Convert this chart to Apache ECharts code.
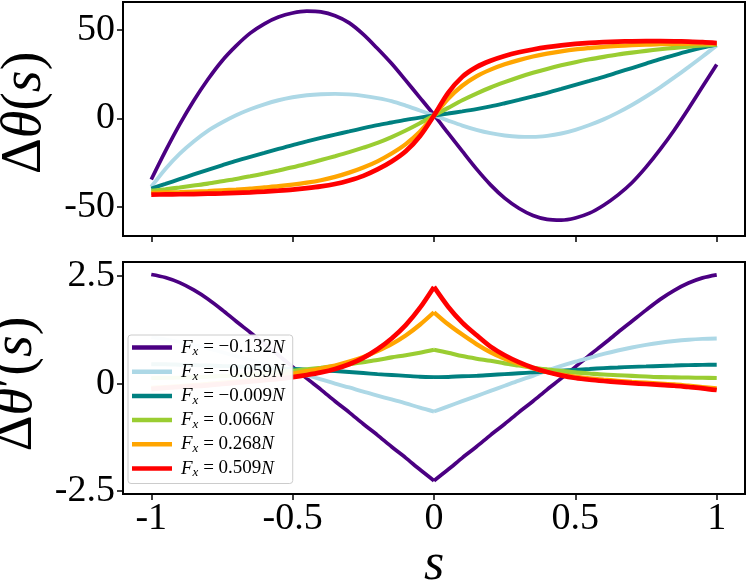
<!DOCTYPE html>
<html>
<head>
<meta charset="utf-8">
<script src="https://cdn.jsdelivr.net/npm/echarts@6/dist/echarts.min.js"></script>
<style>
  html, body { margin: 0; padding: 0; background: #fff; }
  #chart { width: 747px; height: 584px; }
</style>
</head>
<body>
<div id="chart"></div>
<script>
// arc-length coordinate, shared by both panels (step 0.05)
var sValues = [-1, -0.95, -0.9, -0.85, -0.8, -0.75, -0.7, -0.65, -0.6, -0.55, -0.5,
               -0.45, -0.4, -0.35, -0.3, -0.25, -0.2, -0.15, -0.1, -0.05, 0,
               0.05, 0.1, 0.15, 0.2, 0.25, 0.3, 0.35, 0.4, 0.45, 0.5,
               0.55, 0.6, 0.65, 0.7, 0.75, 0.8, 0.85, 0.9, 0.95, 1];

var forces = ['\u22120.132', '\u22120.059', '\u22120.009', '0.066', '0.268', '0.509'];
var colors = ['#4b0082', '#add8e6', '#008080', '#9acd32', '#ffa500', '#ff0000'];

// top panel: delta theta(s)
var thetaA = [-34.5, -18.5, -3.5, 10, 22, 32.5, 41, 48.2, 53.5, 57.3, 59.6,
              60.6, 60.2, 58, 54, 47.5, 39.5, 31, 21.5, 11.8, 2,
              -8.3, -18.5, -28.5, -37.5, -45, -50.7, -54.8, -57, -57.4, -56.2,
              -53.5, -49, -43.3, -36.3, -27.5, -17.5, -6.5, 5.5, 18, 30.5];
var thetaB = [-38.6, -28.5, -20, -13, -7, -2.3, 1.8, 5.2, 8, 10.3, 12,
              13.1, 13.7, 13.9, 13.6, 12.8, 11.5, 9.8, 7.3, 4.5, 1.7,
              -1.2, -4, -6.4, -8.3, -9.6, -10.3, -10.4, -9.8, -8.5, -6.4,
              -3.7, -0.5, 3.3, 7.6, 12.4, 17.6, 23.2, 29, 35, 41.3];
var thetaC = [-39.6, -37, -34.3, -31.6, -29, -26.5, -24, -21.7, -19.5, -17.2, -15,
              -13, -11, -9.1, -7.3, -5.5, -3.8, -2.3, -0.8, 0.5, 1.7,
              2.8, 4, 5.3, 6.8, 8.6, 10.5, 12.5, 14.5, 16.7, 19,
              21.2, 23.5, 26, 28.5, 31, 33.5, 35.8, 38, 40, 41.7];
var thetaD = [-40.9, -40, -39, -37.9, -36.8, -35.5, -34.2, -32.7, -31.1, -29.4, -27.6,
              -25.6, -23.5, -21.3, -19, -16.5, -13.8, -10.5, -6.8, -2.7, 1.7,
              6, 10.3, 14.1, 17.5, 20.5, 23.3, 25.8, 28, 30, 31.8,
              33.4, 34.8, 36.1, 37.2, 38.2, 39.1, 39.9, 40.6, 41.2, 41.7];
var thetaE = [-42, -41.8, -41.6, -41.3, -41, -40.6, -40.2, -39.7, -39, -38.3, -37.4,
              -36.3, -34.9, -33, -30.6, -27.7, -24.2, -19.8, -14.5, -7.5, 1.7,
              11.2, 18.5, 23.8, 27.6, 30.6, 33, 35, 36.6, 37.9, 39,
              39.8, 40.5, 41, 41.4, 41.7, 42, 42.1, 42.2, 42.3, 42.3];
var thetaF = [-43, -42.9, -42.8, -42.7, -42.5, -42.3, -42, -41.7, -41.3, -40.8, -40.2,
              -39.4, -38.4, -37, -35, -32.4, -28.8, -24.3, -18.5, -10, 1.7,
              14.5, 23.5, 29, 32.6, 35.3, 37.4, 39, 40.3, 41.3, 42.1,
              42.7, 43.1, 43.4, 43.6, 43.7, 43.7, 43.6, 43.4, 43.1, 42.6];

// bottom panel: delta theta'(s)
var dthetaA = [2.54, 2.47, 2.35, 2.18, 1.97, 1.72, 1.45, 1.19, 0.92, 0.66, 0.39,
               0.12, -0.14, -0.41, -0.67, -0.94, -1.2, -1.47, -1.73, -2.0, -2.26,
               -2.0, -1.73, -1.47, -1.2, -0.94, -0.67, -0.41, -0.14, 0.12, 0.39,
               0.66, 0.92, 1.19, 1.45, 1.71, 1.96, 2.17, 2.34, 2.46, 2.53];
var dthetaB = [1.08, 1.03, 0.97, 0.9, 0.82, 0.73, 0.64, 0.55, 0.45, 0.36, 0.27,
               0.19, 0.1, 0, -0.09, -0.19, -0.28, -0.37, -0.46, -0.56, -0.65,
               -0.53, -0.41, -0.29, -0.17, -0.05, 0.07, 0.18, 0.3, 0.41, 0.51,
               0.6, 0.69, 0.77, 0.84, 0.9, 0.95, 0.99, 1.02, 1.04, 1.05];
var dthetaC = [0.45, 0.45, 0.44, 0.43, 0.42, 0.41, 0.4, 0.385, 0.37, 0.355, 0.34,
               0.325, 0.31, 0.29, 0.27, 0.245, 0.22, 0.2, 0.18, 0.16, 0.15,
               0.155, 0.17, 0.18, 0.2, 0.22, 0.24, 0.26, 0.28, 0.3, 0.32,
               0.34, 0.36, 0.375, 0.39, 0.4, 0.41, 0.42, 0.43, 0.435, 0.44];
var dthetaD = [0.13, 0.135, 0.14, 0.15, 0.16, 0.175, 0.19, 0.215, 0.24, 0.27, 0.3,
               0.335, 0.37, 0.41, 0.45, 0.5, 0.55, 0.61, 0.66, 0.72, 0.79,
               0.72, 0.64, 0.58, 0.53, 0.47, 0.42, 0.37, 0.33, 0.295, 0.26,
               0.235, 0.21, 0.195, 0.18, 0.165, 0.15, 0.145, 0.14, 0.135, 0.13];
var dthetaE = [-0.1, -0.08, -0.06, -0.035, -0.01, 0.02, 0.05, 0.09, 0.13, 0.18, 0.23,
               0.29, 0.35, 0.42, 0.51, 0.62, 0.76, 0.92, 1.12, 1.37, 1.66,
               1.38, 1.14, 0.92, 0.73, 0.58, 0.46, 0.36, 0.27, 0.21, 0.16,
               0.12, 0.09, 0.065, 0.04, 0.02, 0, -0.02, -0.05, -0.08, -0.11];
var dthetaF = [-0.13, -0.1, -0.08, -0.06, -0.04, -0.01, 0.02, 0.05, 0.08, 0.11, 0.15,
               0.2, 0.26, 0.34, 0.45, 0.6, 0.8, 1.05, 1.36, 1.76, 2.25,
               1.79, 1.42, 1.13, 0.86, 0.66, 0.5, 0.37, 0.27, 0.19, 0.13,
               0.09, 0.06, 0.035, 0.01, -0.01, -0.03, -0.05, -0.08, -0.11, -0.15];

var xTicks = [-1, -0.5, 0, 0.5, 1];
var thetaTicks = [-50, 0, 50];
var dthetaTicks = [-2.5, 0, 2.5];

var thetaSets = [thetaA, thetaB, thetaC, thetaD, thetaE, thetaF];
var dthetaSets = [dthetaA, dthetaB, dthetaC, dthetaD, dthetaE, dthetaF];
var widths = [3.7, 3.9, 3.9, 4.1, 4.3, 4.7];

var serif = 'Liberation Serif';
var chart = echarts.init(document.getElementById('chart'));

function nameOf(i) { return 'Fx=' + forces[i] + 'N'; }

function pairs(vals, from, to) {
    var out = [];
    for (var k = from; k <= to; k++) out.push([sValues[k], vals[k]]);
    return out;
}

function line(name, i, xi, data) {
    return {
        name: name, type: 'line', xAxisIndex: xi, yAxisIndex: xi, data: data,
        smooth: 0.3, showSymbol: false, z: 2, zlevel: 0,
        lineStyle: { color: colors[i], width: widths[i] }, itemStyle: { color: colors[i] }
    };
}

var mid = sValues.indexOf(0);
var last = sValues.length - 1;
var series = [];
thetaSets.forEach(function(vals, i) {
    series.push(line(nameOf(i), i, 0, pairs(vals, 0, last)));
});
// the derivative has a kink at s = 0, so each side is its own smooth piece
dthetaSets.forEach(function(vals, i) {
    series.push(line(nameOf(i), i, 1, pairs(vals, 0, mid)));
    series.push(line(nameOf(i), i, 1, pairs(vals, mid, last)));
});

var tickStyle = { show: true, length: 6, inside: false, lineStyle: { color: '#000', width: 1.5 } };
var labelStyle = { fontFamily: serif, fontSize: 38, color: '#000' };

function xAxis(idx, labels) {
    return {
        type: 'value', gridIndex: idx, min: -1.1, max: 1.1,
        splitLine: { show: false }, axisLine: { show: false, onZero: false },
        axisTick: Object.assign({ customValues: xTicks }, tickStyle),
        axisLabel: Object.assign({ show: labels, customValues: xTicks, margin: 6 }, labelStyle),
        name: labels ? '{i|s}' : '', nameLocation: 'middle', nameGap: 45,
        nameTextStyle: { rich: { i: { fontFamily: serif, fontStyle: 'italic', fontSize: 52, color: '#000' } } }
    };
}

function yAxis(idx, min, max, ticks, title, pad) {
    return {
        type: 'value', gridIndex: idx, min: min, max: max,
        splitLine: { show: false }, axisLine: { show: false, onZero: false },
        axisTick: Object.assign({ customValues: ticks }, tickStyle),
        axisLabel: Object.assign({ customValues: ticks, margin: 8 }, labelStyle),
        name: title, nameLocation: 'middle', nameRotate: 90, nameGap: 70,
        nameTextStyle: {
            padding: pad,
            rich: {
                u: { fontFamily: serif, fontSize: 56, color: '#000' },
                i: { fontFamily: serif, fontStyle: 'italic', fontSize: 56, color: '#000' }
            }
        }
    };
}

var legendRich = {
    sp: { width: 4 },
    f: { fontFamily: serif, fontStyle: 'italic', fontSize: 19, color: '#000', lineHeight: 20 },
    sub: { fontFamily: serif, fontStyle: 'italic', fontSize: 13, color: '#000', padding: [9, 0, 0, 0] },
    n: { fontFamily: serif, fontSize: 19, color: '#000', lineHeight: 20 }
};

var gridBase = { left: 123, width: 622, show: true, borderColor: '#000', borderWidth: 2,
                 outerBoundsMode: 'none', containLabel: false };

var option = {
    backgroundColor: '#fff',
    animation: false,
    grid: [
        Object.assign({ top: 2, height: 234 }, gridBase),
        Object.assign({ top: 262, height: 232 }, gridBase)
    ],
    xAxis: [xAxis(0, false), xAxis(1, true)],
    yAxis: [
        yAxis(0, -66.4, 65.8, thetaTicks, '{u|\u0394}{i|\u03b8}{u|(}{i|s}{u|)}', [0, 0, 0, 12]),
        yAxis(1, -2.57, 2.83, dthetaTicks, '{u|\u0394}{i|\u03b8}{u|\u2032(}{i|s}{u|)}', [0, 12, 0, 0])
    ],
    legend: {
        data: forces.map(function(f, i) { return nameOf(i); }),
        orient: 'vertical', left: 128, top: 335, z: 50, zlevel: 1,
        itemWidth: 40, itemHeight: 4.5, itemGap: 3.7,
        icon: 'rect',
        backgroundColor: 'rgba(255,255,255,0.95)',
        borderColor: '#cccccc', borderWidth: 1, borderRadius: 3,
        padding: [3, 8, 4, 4],
        formatter: function(name) {
            var f = forces[forces.map(function(x, i) { return nameOf(i); }).indexOf(name)];
            return '{sp|}{f|F}{sub|x}{n| = ' + f + '}{f|N}';
        },
        textStyle: { rich: legendRich }
    },
    series: series
};

chart.setOption(option);
</script>
</body>
</html>
